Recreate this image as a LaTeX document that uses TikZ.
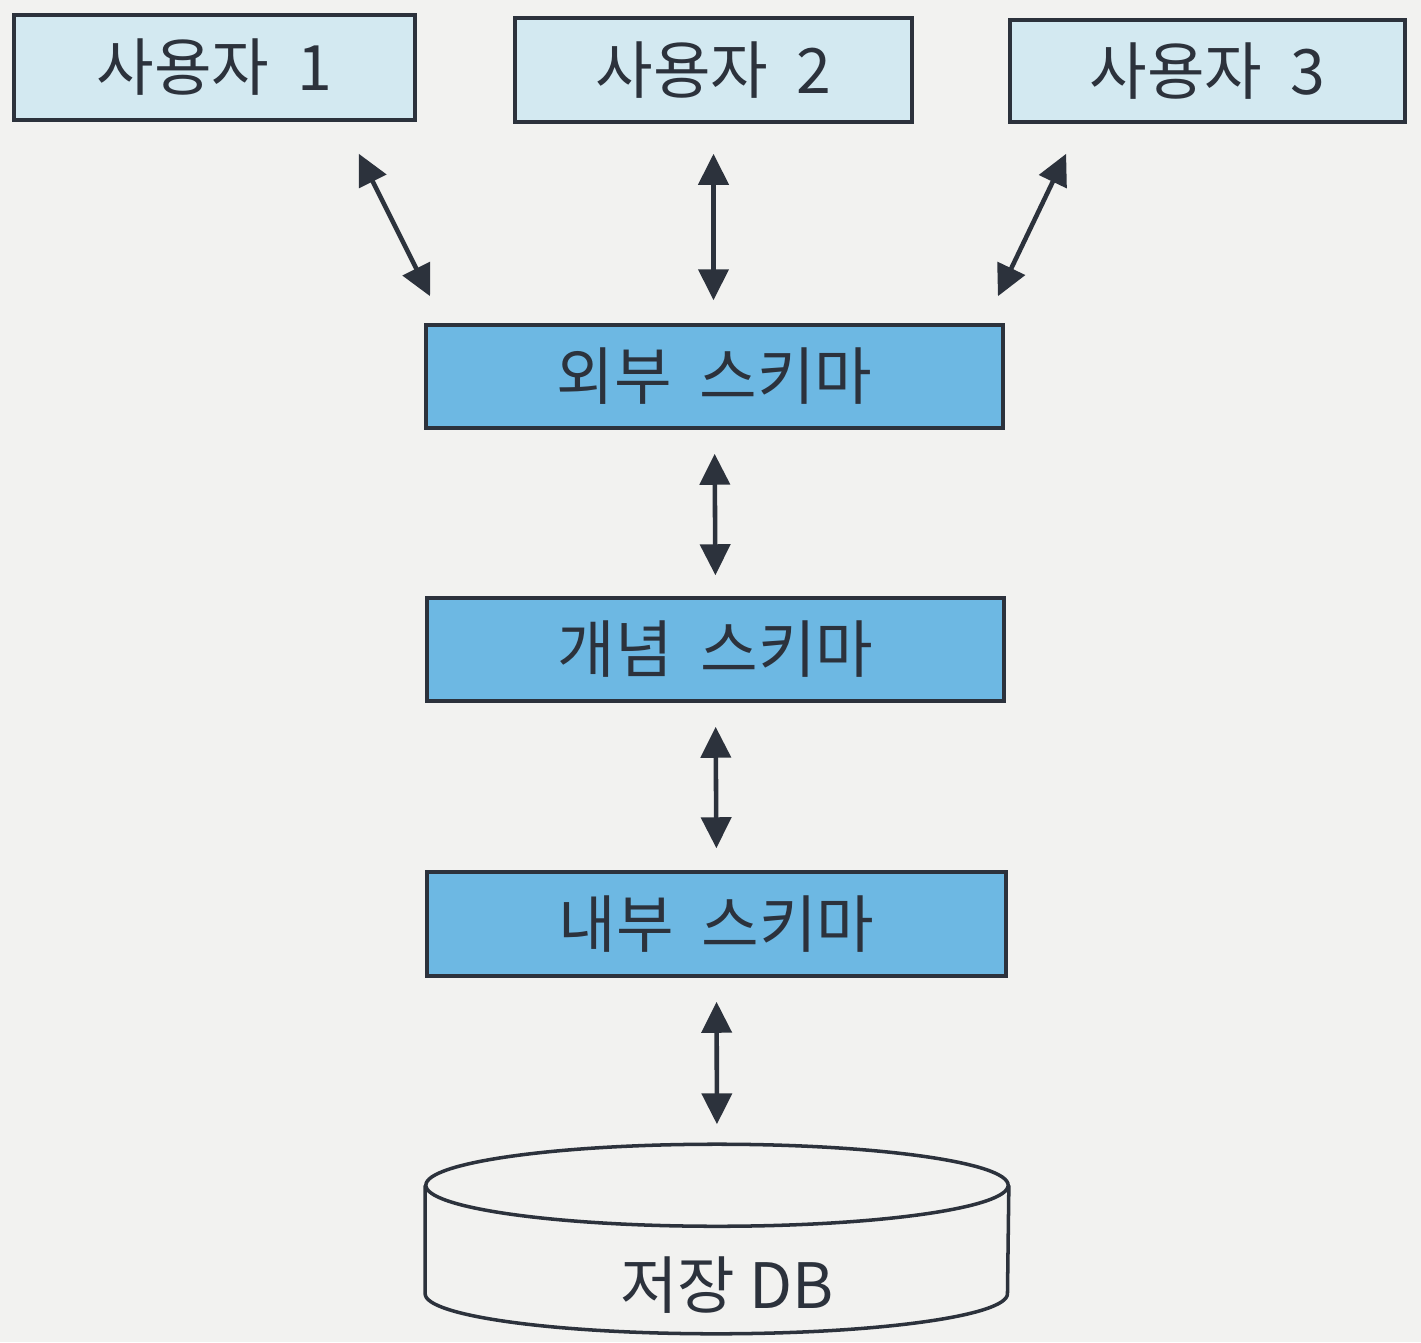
\documentclass[tikz,border=0pt]{standalone}
\usepackage{fontspec}
\setmainfont{Noto Sans CJK KR}
\usetikzlibrary{arrows.meta,calc}
\definecolor{bg}{HTML}{F2F2F0}
\definecolor{lightb}{HTML}{D3E9F1}
\definecolor{midb}{HTML}{6DB8E3}
\definecolor{ink}{HTML}{2C323C}
\begin{document}
\begin{tikzpicture}[x=0.01cm,y=-0.01cm,
  lbl/.style={text=ink, font=\fontsize{17.8}{21}\selectfont},
  userbox/.style={lbl, draw=ink, line width=1pt, fill=lightb, inner sep=0pt},
  schemabox/.style={lbl, draw=ink, line width=1pt, fill=midb, inner sep=0pt, minimum width=5.77cm, minimum height=1.03cm},
  link/.style={draw=ink, line width=1.3pt, {Triangle[length=8.8pt,width=8.5pt]}-{Triangle[length=8.8pt,width=8.5pt]}}]
\fill[bg] (0,0) rectangle (1421,1342);
\useasboundingbox (0,0) rectangle (1421,1342);

\node[userbox, minimum width=4.01cm, minimum height=1.05cm] (u1) at (214.5,67.5) {사용자\ \ 1};
\node[userbox, minimum width=3.97cm, minimum height=1.04cm] (u2) at (713.5,70) {사용자\ \ 2};
\node[userbox, minimum width=3.95cm, minimum height=1.02cm] (u3) at (1207.5,71) {사용자\ \ 3};

\node[schemabox] (ext) at (714.5,376.5) {외부\ \ 스키마};
\node[schemabox] (con) at (715.5,649.5) {개념\ \ 스키마};
\node[schemabox, minimum width=5.79cm, minimum height=1.04cm] (int) at (716.5,924) {내부\ \ 스키마};

% storage cylinder
\node[minimum width=5.82cm, minimum height=1.88cm, inner sep=0pt] (db) at (717,1239) {};
\draw[ink, line width=1pt] ($(db.north west)+(0,41)$) -- ($(db.south west)+(0,-40)$)
   arc[start angle=180, end angle=360, x radius=2.91cm, y radius=0.40cm]
   -- ($(db.north east)+(0,41)$);
\draw[ink, line width=1pt] ($(db.north)+(0,41)$) ellipse [x radius=2.91cm, y radius=0.41cm];
\node[lbl] (dbt) at (727,1285) {저장\ DB};

% connectors
\coordinate (a1s) at ($(u1.south east)+(-58,32)$);
\coordinate (a1e) at ($(ext.north west)+(6,-27)$);
\coordinate (a3s) at ($(u3.south west)+(58,30)$);
\coordinate (a3e) at ($(ext.north east)+(-7,-27)$);
\draw[link] (a1s) -- (a1e);
\draw[link, shorten <=0.30cm, shorten >=0.23cm] (u2.south) -- (u2.south |- ext.north);
\draw[link] (a3s) -- (a3e);
\draw[link, shorten <=0.24cm, shorten >=0.21cm] (ext.south) -- (con.north);
\draw[link, shorten <=0.24cm, shorten >=0.22cm] (con.south) -- (int.north);
\draw[link, shorten <=0.24cm, shorten >=0.20cm] (int.south) -- (db.north);
\end{tikzpicture}
\end{document}
